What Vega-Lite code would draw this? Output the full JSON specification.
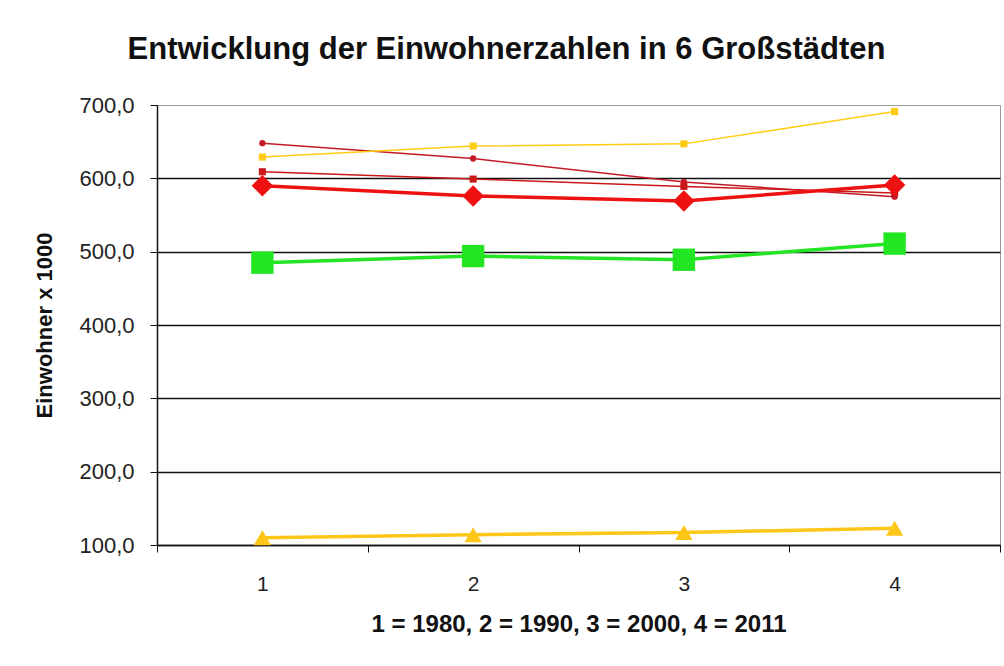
{
  "$schema": "https://vega.github.io/schema/vega-lite/v6.json",
  "width": 843,
  "height": 440,
  "autosize": {"type": "none"},
  "padding": {"left": 157, "top": 105, "right": 4, "bottom": 121},
  "background": "white",
  "title": {
    "text": "Entwicklung der Einwohnerzahlen in 6 Großstädten",
    "font": "Liberation Sans",
    "fontSize": 31,
    "fontWeight": "bold",
    "color": "#111111",
    "anchor": "middle",
    "dx": -72,
    "offset": 28
  },
  "config": {
    "font": "Liberation Sans",
    "view": {"stroke": "#9a9a9a", "strokeWidth": 1}
  },
  "data": {
    "values": [
      {"stadt": "Reihe1", "zeit": "1", "einwohner": 648},
      {"stadt": "Reihe1", "zeit": "2", "einwohner": 627},
      {"stadt": "Reihe1", "zeit": "3", "einwohner": 595},
      {"stadt": "Reihe1", "zeit": "4", "einwohner": 575},
      {"stadt": "Reihe2", "zeit": "1", "einwohner": 609},
      {"stadt": "Reihe2", "zeit": "2", "einwohner": 599},
      {"stadt": "Reihe2", "zeit": "3", "einwohner": 589},
      {"stadt": "Reihe2", "zeit": "4", "einwohner": 580},
      {"stadt": "Reihe3", "zeit": "1", "einwohner": 590},
      {"stadt": "Reihe3", "zeit": "2", "einwohner": 576},
      {"stadt": "Reihe3", "zeit": "3", "einwohner": 569},
      {"stadt": "Reihe3", "zeit": "4", "einwohner": 591},
      {"stadt": "Reihe4", "zeit": "1", "einwohner": 629},
      {"stadt": "Reihe4", "zeit": "2", "einwohner": 644},
      {"stadt": "Reihe4", "zeit": "3", "einwohner": 647},
      {"stadt": "Reihe4", "zeit": "4", "einwohner": 691},
      {"stadt": "Reihe5", "zeit": "1", "einwohner": 485},
      {"stadt": "Reihe5", "zeit": "2", "einwohner": 494},
      {"stadt": "Reihe5", "zeit": "3", "einwohner": 489},
      {"stadt": "Reihe5", "zeit": "4", "einwohner": 511},
      {"stadt": "Reihe6", "zeit": "1", "einwohner": 110},
      {"stadt": "Reihe6", "zeit": "2", "einwohner": 114},
      {"stadt": "Reihe6", "zeit": "3", "einwohner": 117},
      {"stadt": "Reihe6", "zeit": "4", "einwohner": 123}
    ]
  },
  "encoding": {
    "x": {
      "field": "zeit",
      "type": "ordinal",
      "scale": {"type": "band", "paddingInner": 0, "paddingOuter": 0},
      "axis": {
        "title": "1 = 1980, 2 = 1990, 3 = 2000, 4 = 2011",
        "titleFontSize": 24,
        "titleFontWeight": "bold",
        "titleColor": "#111111",
        "titlePadding": 18,
        "labelAngle": 0,
        "labelFontSize": 21,
        "labelColor": "#222222",
        "labelPadding": 21,
        "tickBand": "extent",
        "tickColor": "#111111",
        "tickSize": 7,
        "tickWidth": 1,
        "domainColor": "#111111",
        "domainWidth": 1.5,
        "grid": false
      }
    },
    "y": {
      "field": "einwohner",
      "type": "quantitative",
      "scale": {"domain": [100, 700], "nice": false, "zero": false},
      "axis": {
        "title": "Einwohner x 1000",
        "titleFontSize": 22,
        "titleFontWeight": "bold",
        "titleColor": "#111111",
        "titlePadding": 22,
        "values": [100, 200, 300, 400, 500, 600, 700],
        "labelExpr": "replace(format(datum.value, '.1f'), '.', ',')",
        "labelFontSize": 22,
        "labelColor": "#222222",
        "labelPadding": 16,
        "tickColor": "#111111",
        "tickSize": 7,
        "tickWidth": 1,
        "domainColor": "#111111",
        "domainWidth": 1.5,
        "grid": true,
        "gridColor": {"condition": {"test": "datum.value === 700", "value": "#9a9a9a"}, "value": "#111111"},
        "gridWidth": {"condition": {"test": "datum.value === 700", "value": 1}, "value": 1.5}
      }
    },
    "color": {
      "field": "stadt",
      "type": "nominal",
      "scale": {
        "domain": ["Reihe1", "Reihe2", "Reihe3", "Reihe4", "Reihe5", "Reihe6"],
        "range": ["#c41a28", "#c81818", "#ee1111", "#ffcc11", "#22e622", "#ffc61a"]
      },
      "legend": null
    }
  },
  "layer": [
    {
      "transform": [{"filter": {"field": "stadt", "oneOf": ["Reihe1", "Reihe2", "Reihe4"]}}],
      "mark": {"type": "line", "strokeWidth": 1.5},
      "encoding": {"detail": {"field": "stadt"}}
    },
    {
      "transform": [{"filter": {"field": "stadt", "oneOf": ["Reihe3", "Reihe5", "Reihe6"]}}],
      "mark": {"type": "line", "strokeWidth": 3.5},
      "encoding": {"detail": {"field": "stadt"}}
    },
    {
      "transform": [{"filter": {"field": "stadt", "equal": "Reihe1"}}],
      "mark": {"type": "point", "filled": true, "opacity": 1, "shape": "circle", "size": 40}
    },
    {
      "transform": [{"filter": {"field": "stadt", "oneOf": ["Reihe2", "Reihe4"]}}],
      "mark": {"type": "point", "filled": true, "opacity": 1, "shape": "square", "size": 50}
    },
    {
      "transform": [{"filter": {"field": "stadt", "equal": "Reihe3"}}],
      "mark": {"type": "point", "filled": true, "opacity": 1, "shape": "diamond", "size": 460}
    },
    {
      "transform": [{"filter": {"field": "stadt", "equal": "Reihe5"}}],
      "mark": {"type": "point", "filled": true, "opacity": 1, "shape": "square", "size": 500}
    },
    {
      "transform": [{"filter": {"field": "stadt", "equal": "Reihe6"}}],
      "mark": {"type": "point", "filled": true, "opacity": 1, "shape": "triangle-up", "size": 300}
    }
  ]
}
